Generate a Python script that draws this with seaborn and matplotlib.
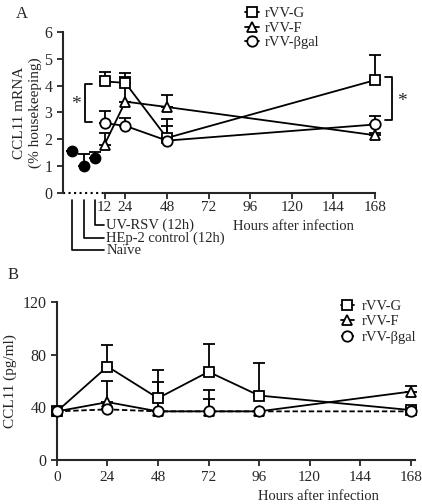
import numpy as np
import pandas as pd
import matplotlib
matplotlib.use("Agg")
import matplotlib.pyplot as plt
from matplotlib.lines import Line2D
import seaborn as sns

# panel A data (CCL11 mRNA, % housekeeping)
hours_a = [12, 24, 48, 168]
g_a = [4.15, 4.1, 2.05, 4.2]
g_a_err = [0.35, 0.35, 0.7, 0.95]
f_a = [1.8, 3.4, 3.2, 2.15]
f_a_err = [0.45, 0.9, 0.45, 0.1]
bgal_a = [2.6, 2.5, 1.95, 2.55]
bgal_a_err = [0.45, 0.3, 0.55, 0.3]

ctrl_labels = ["Naïve", "HEp-2 control (12h)", "UV-RSV (12h)"]
ctrl_x = [-6.5, 0, 6.5]
ctrl_vals = [1.55, 1.02, 1.3]
ctrl_err = [0.0, 0.42, 0.22]

# panel B data (CCL11 protein, pg/ml)
hours_b = [0, 24, 48, 72, 96, 168]
g_b = [37, 71, 47, 67, 49, 38]
g_b_err = [0, 16, 21, 21, 25, 2]
f_b = [37, 44, 37, 37, 37, 52]
f_b_err = [0, 16, 22, 16, 0, 4]
bgal_b = [37, 38.5, 37, 37, 37, 37]
bgal_b_err = [0, 0, 0, 9, 0, 0]

series = ["rVV-G", "rVV-F", "rVV-βgal"]
markers = {"rVV-G": "s", "rVV-F": "^", "rVV-βgal": "o"}

sns.set_style("ticks")
plt.rcParams['font.family'] = ['Liberation Serif', 'DejaVu Serif']
plt.rcParams['axes.linewidth'] = 1.5
plt.rcParams['xtick.major.width'] = 1.3
plt.rcParams['ytick.major.width'] = 1.3
plt.rcParams['xtick.major.size'] = 4
plt.rcParams['ytick.major.size'] = 4
plt.rcParams['xtick.labelsize'] = 11
plt.rcParams['ytick.labelsize'] = 11.5

fig = plt.figure(figsize=(4.22, 5.04), dpi=100)
axA = fig.add_axes([0.149, 0.617, 0.748, 0.320])
axB = fig.add_axes([0.135, 0.087, 0.848, 0.314])


def long_df(hours, vals_list):
    rows = []
    for name, vals in zip(series, vals_list):
        for h, v in zip(hours, vals):
            rows.append({"hours": h, "value": v, "series": name})
    return pd.DataFrame(rows)


def draw(ax, hours, vals_list, errs_list, dashes):
    for vals, errs in zip(vals_list, errs_list):
        ax.errorbar(hours, vals, yerr=[np.zeros(len(errs)), errs], fmt="none",
                    ecolor="black", elinewidth=1.3, capsize=4, capthick=1.3,
                    zorder=1, clip_on=False)
    df = long_df(hours, vals_list)
    sns.lineplot(data=df, x="hours", y="value", style="series", markers=markers,
                 dashes=dashes, color="black", markersize=7.5, lw=1.3,
                 markerfacecolor="white", markeredgecolor="black",
                 markeredgewidth=1.3, legend=False, ax=ax, zorder=3, clip_on=False)


# ---- panel A ----
draw(axA, hours_a, [g_a, f_a, bgal_a], [g_a_err, f_a_err, bgal_a_err], False)
axA.errorbar(ctrl_x, ctrl_vals, yerr=[np.zeros(3), ctrl_err], fmt="o", color="black",
             ms=7.5, elinewidth=1.3, capsize=4, capthick=1.3, clip_on=False, zorder=3)
axA.set_xlim(-12, 170)
axA.set_ylim(0, 6)
axA.set_xticks([12, 24, 48, 72, 96, 120, 144, 168])
axA.set_yticks(range(0, 7))
axA.tick_params(axis="x", pad=1.5)
axA.spines['bottom'].set_bounds(12, 168)
axA.plot([-12, 12], [0, 0], ls=":", color="black", lw=1.5, clip_on=False)
sns.despine(ax=axA)
axA.set_xlabel("Hours after infection", fontsize=10.5)
axA.xaxis.set_label_coords(0.73, -0.17)
axA.set_ylabel("CCL11 mRNA\n(% housekeeping)", fontsize=11, labelpad=2)

# control labels below axis
drops = [-2.12, -1.67, -1.2]
for x, lab, yd in zip(ctrl_x, ctrl_labels, drops):
    axA.plot([x, x, 11.5], [-0.25, yd, yd], color="black", lw=1.2, clip_on=False)
    axA.text(13, yd, lab, fontsize=10.5, va="center", ha="left")

# significance brackets
def bracket(ax, x, y0, y1, side):
    arm = 4 * side
    ax.plot([x + arm, x, x, x + arm], [y0, y0, y1, y1], color="black", lw=1.3,
            clip_on=False)

bracket(axA, 0.8, g_a[0] - 0.1, bgal_a[0] + 0.05, 1)
axA.text(-4.2, 3.3, "*", fontsize=14, ha="center", va="center")
bracket(axA, 177.5, g_a[-1] + 0.1, bgal_a[-1] + 0.15, -1)
axA.text(183.5, 3.4, "*", fontsize=14, ha="center", va="center")

handles = [Line2D([0], [0], color="black", marker=markers[s], mfc="white", mec="black",
                  mew=1.3, ms=7.5, lw=1.3) for s in series]
axA.legend(handles, series, frameon=False, loc="upper left",
           bbox_to_anchor=(0.56, 1.19), handlelength=0.9, handletextpad=0.4,
           labelspacing=0.1, fontsize=10.5, borderaxespad=0)
fig.text(0.052, 0.972, "A", fontsize=12, ha="center", va="center")

# ---- panel B ----
draw(axB, hours_b, [g_b, f_b, bgal_b], [g_b_err, f_b_err, bgal_b_err],
     {"rVV-G": "", "rVV-F": "", "rVV-βgal": (3, 1.5)})
axB.set_xlim(0, 170)
axB.set_ylim(0, 120)
axB.set_xticks(range(0, 169, 24))
axB.set_yticks([0, 40, 80, 120])
sns.despine(ax=axB)
axB.set_xlabel("Hours after infection", fontsize=10.5)
axB.xaxis.set_label_coords(0.73, -0.19)
axB.set_ylabel("CCL11 (pg/ml)", fontsize=11, labelpad=4)

handles_b = []
for s in series:
    ls = "--" if s == "rVV-βgal" else "-"
    handles_b.append(Line2D([0], [0], color="black", marker=markers[s], mfc="white",
                            mec="black", mew=1.3, ms=7.5, lw=1.3, ls=ls))
axB.legend(handles_b, series, frameon=False, loc="upper left",
           bbox_to_anchor=(0.777, 1.05), handlelength=0.9, handletextpad=0.5,
           labelspacing=0.15, fontsize=10.5, borderaxespad=0)
fig.text(0.03, 0.455, "B", fontsize=12, ha="center", va="center")

fig.savefig("out.png", dpi=100)
